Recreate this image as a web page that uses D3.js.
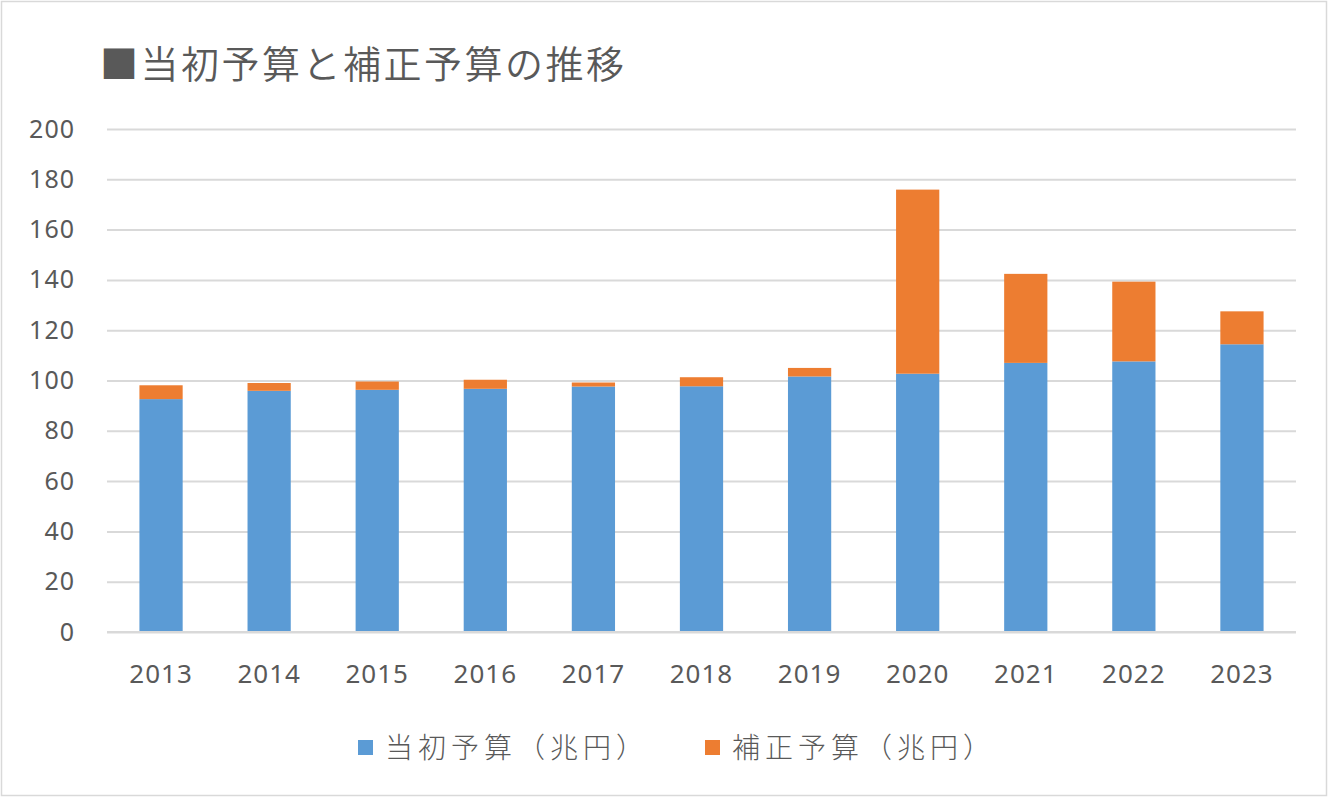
<!DOCTYPE html>
<html><head><meta charset="utf-8">
<script src="https://cdn.jsdelivr.net/npm/d3@7"></script>
<style>body{margin:0;background:#fff;} svg{display:block;}</style>
</head><body>
<svg id="c" width="1328" height="797"></svg>
<script>
const years = ["2013","2014","2015","2016","2017","2018","2019","2020","2021","2022","2023"];
const initialBudget = [92.6, 95.9, 96.3, 96.7, 97.6, 97.7, 101.6, 102.7, 107.0, 107.6, 114.4];
const supplementaryBudget = [5.5, 3.1, 3.3, 3.6, 1.6, 3.6, 3.4, 73.2, 35.4, 31.7, 13.1];
const yTicks = [0,20,40,60,80,100,120,140,160,180,200];
const seriesNames = ["当初予算（兆円）","補正予算（兆円）"];
const colors = ["#5B9BD5","#ED7D31"];
const title = "■当初予算と補正予算の推移";

const svg = d3.select("#c");
const W = 1328, H = 797;
svg.append("rect").attr("x",1.5).attr("y",1.5).attr("width",W-3).attr("height",H-3)
  .attr("fill","#fff").attr("stroke","#d9d9d9").attr("stroke-width",1.5);

const m = {left:107, right:1296, top:129, bottom:632};
const x = d3.scaleBand().domain(years).range([m.left, m.right]).paddingInner(0.6).paddingOuter(0.3);
const y = d3.scaleLinear().domain([0,200]).range([m.bottom, m.top]);

// title
svg.append("text").attr("x",100).attr("y",78).attr("fill","#595959")
  .attr("font-family","'Noto Sans CJK JP', sans-serif").attr("font-size",38).attr("font-weight",350)
  .attr("letter-spacing",2.5)
  .text(title);

// grid
const yAxis = d3.axisLeft(y).tickValues(yTicks).tickSize(-(m.right-m.left)).tickPadding(32);
const gy = svg.append("g").attr("transform",`translate(${m.left},0)`).call(yAxis);
gy.select(".domain").remove();
gy.selectAll(".tick line").attr("stroke","#d9d9d9").attr("stroke-width",2);
gy.selectAll(".tick text").attr("fill","#595959").attr("font-family","'Noto Sans', sans-serif")
  .attr("font-size",25).attr("letter-spacing",1);

// stacked data
const data = years.map((yr,i)=>({year:yr, a:initialBudget[i], b:supplementaryBudget[i]}));
const stack = d3.stack().keys(["a","b"])(data);
svg.append("g").selectAll("g").data(stack).join("g").attr("fill",(d,i)=>colors[i])
  .selectAll("rect").data(d=>d).join("rect")
  .attr("x",d=>x(d.data.year)).attr("width",x.bandwidth())
  .attr("y",d=>y(d[1])).attr("height",d=>y(d[0])-y(d[1]));

// x axis
const xAxis = d3.axisBottom(x).tickSize(0).tickPadding(33);
const gx = svg.append("g").attr("transform",`translate(0,${m.bottom})`).call(xAxis);
gx.select(".domain").remove();
gx.selectAll(".tick text").attr("fill","#595959").attr("font-family","'Noto Sans', sans-serif")
  .attr("font-size",26).attr("letter-spacing",1);
svg.append("line").attr("x1",m.left).attr("x2",m.right).attr("y1",m.bottom).attr("y2",m.bottom)
  .attr("stroke","#d9d9d9").attr("stroke-width",2);

// legend
const legX = [358, 705];
seriesNames.forEach((n,i)=>{
  svg.append("rect").attr("x",legX[i]).attr("y",740).attr("width",15).attr("height",15).attr("fill",colors[i]);
  svg.append("text").attr("x",legX[i]+27).attr("y",758).attr("fill","#595959")
    .attr("font-family","'Noto Sans CJK JP', sans-serif").attr("font-size",28).attr("font-weight",300)
    .attr("letter-spacing",5).text(n);
});
</script>
</body></html>
